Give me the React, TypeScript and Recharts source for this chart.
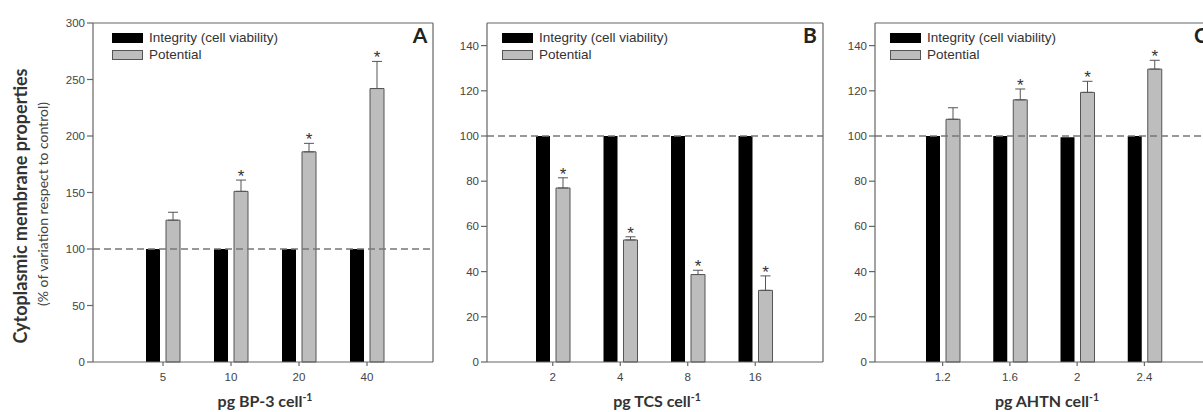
import React from 'react';
import { BarChart, Bar, XAxis, YAxis, ErrorBar, ReferenceLine, LabelList, Legend } from 'recharts';

const seriesNames = ['Integrity (cell viability)', 'Potential'];
const seriesFills = ['#000000', '#bdbdbd'];

// panel A: BP-3
const bp3Doses = ['5', '10', '20', '40'];
const bp3Integrity = [100, 100, 100, 100];
const bp3Potential = [125.5, 151, 186, 242];
const bp3Error = [7, 10, 7.5, 24];
const bp3Signif = [false, true, true, true];

// panel B: TCS
const tcsDoses = ['2', '4', '8', '16'];
const tcsIntegrity = [100, 100, 100, 100];
const tcsPotential = [77, 54, 38.7, 31.7];
const tcsError = [4.5, 1.4, 1.9, 6.4];
const tcsSignif = [true, true, true, true];

// panel C: AHTN
const ahtnDoses = ['1.2', '1.6', '2', '2.4'];
const ahtnIntegrity = [100, 100, 99.5, 100];
const ahtnPotential = [107.4, 116, 119.3, 129.6];
const ahtnError = [5.1, 4.8, 4.9, 3.9];
const ahtnSignif = [false, true, true, true];

const yTicksA = [0, 50, 100, 150, 200, 250, 300];
const yTicksBC = [0, 20, 40, 60, 80, 100, 120, 140];

const makeRows = (doses: string[], integ: number[], pot: number[], err: number[], sig: boolean[]) =>
  doses.map((d, i) => ({ dose: d, integrity: integ[i], potential: pot[i], err: [0, err[i]], e: err[i], sig: sig[i] }));

const rowsA = makeRows(bp3Doses, bp3Integrity, bp3Potential, bp3Error, bp3Signif);
const rowsB = makeRows(tcsDoses, tcsIntegrity, tcsPotential, tcsError, tcsSignif);
const rowsC = makeRows(ahtnDoses, ahtnIntegrity, ahtnPotential, ahtnError, ahtnSignif);

const tickFont = { fontSize: 11.5, fill: '#444', fontFamily: 'Liberation Sans, Arial, sans-serif' };
const axisColor = '#666';

const renderLegend = () => (
  <div style={{ fontFamily: 'Liberation Sans, Arial, sans-serif', fontSize: 13.5, color: '#333', lineHeight: '17px', textAlign: 'left' }}>
    {seriesNames.map((n, i) => (
      <div key={n} style={{ display: 'flex', alignItems: 'center', whiteSpace: 'nowrap' }}>
        <span
          style={{
            display: 'inline-block',
            width: 31,
            height: 10,
            background: seriesFills[i],
            border: i ? '1px solid #555' : 'none',
            boxSizing: 'border-box',
            marginRight: 6,
          }}
        />
        {n}
      </div>
    ))}
  </div>
);

type PanelProps = {
  rows: any[];
  left: number;
  width: number;
  yWidth: number;
  domain: number[];
  ticks: number[];
  pad: { left: number; right: number };
  legendLeft: number;
};

const Panel = ({ rows, left, width, yWidth, domain, ticks, pad, legendLeft }: PanelProps) => {
  const star = (props: any) => {
    const { x, y, width: w, height: h, value, index } = props;
    const row = rows[index];
    if (!row || !row.sig) return null;
    const top = Number(y) - (row.e * Number(h)) / Number(value);
    return (
      <text x={Number(x) + Number(w) / 2} y={top + 2} textAnchor="middle" fontSize={17} fill="#333" fontFamily="Liberation Sans, Arial, sans-serif">
        *
      </text>
    );
  };

  return (
    <div style={{ position: 'absolute', left, top: 0 }}>
      <BarChart width={width} height={412} data={rows} margin={{ top: 22, right: 6, bottom: 20, left: 0 }} barGap={6}>
        <XAxis dataKey="dose" padding={pad} height={30} tick={tickFont} tickSize={4} tickMargin={7} stroke={axisColor} strokeWidth={1.2} />
        {/* top and right axes only close the frame */}
        <XAxis xAxisId="top" dataKey="dose" orientation="top" height={1} padding={pad} tick={false} tickLine={false} stroke={axisColor} strokeWidth={1.2} />
        <YAxis domain={domain} ticks={ticks} width={yWidth} tick={tickFont} tickSize={6} tickMargin={2} stroke={axisColor} strokeWidth={1.2} />
        <YAxis
          yAxisId="right"
          dataKey="potential"
          orientation="right"
          domain={domain}
          allowDataOverflow
          width={1}
          tick={false}
          tickLine={false}
          stroke={axisColor}
          strokeWidth={1.2}
        />
        <Legend verticalAlign="middle" align="center" layout="horizontal" wrapperStyle={{ top: 29, left: legendLeft, width: 'auto' }} content={renderLegend} />
        <Bar dataKey="integrity" name={seriesNames[0]} fill={seriesFills[0]} barSize={14} isAnimationActive={false} />
        <Bar dataKey="potential" name={seriesNames[1]} fill={seriesFills[1]} stroke="#555" strokeWidth={1} barSize={14} isAnimationActive={false}>
          <ErrorBar dataKey="err" width={5} stroke="#555" strokeWidth={1} direction="y" />
          <LabelList dataKey="potential" content={star} />
        </Bar>
        <ReferenceLine y={100} stroke="#777" strokeWidth={1.5} strokeDasharray="7 4" />
      </BarChart>
    </div>
  );
};

const titleFont = 'Lato, "Open Sans", sans-serif';

const XTitle = ({ x, name }: { x: number; name: string }) => (
  <text x={x} y={407} textAnchor="middle" fontFamily={titleFont} fontWeight="bold" fontSize={16} fill="#333">
    {name}
    <tspan fontSize={10.5} dy={-6}>-1</tspan>
  </text>
);

const App = () => (
  <div style={{ position: 'absolute', left: 0, top: 0, width: 1203, height: 412, overflow: 'hidden', background: '#fff' }}>
    <Panel rows={rowsA} left={0} width={440} yWidth={93} domain={[0, 300]} ticks={yTicksA} pad={{ left: 36, right: 32 }} legendLeft={112} />
    <Panel rows={rowsB} left={440} width={390} yWidth={47} domain={[0, 150]} ticks={yTicksBC} pad={{ left: 32, right: 34 }} legendLeft={62} />
    <Panel rows={rowsC} left={830} width={389} yWidth={45} domain={[0, 150]} ticks={yTicksBC} pad={{ left: 34, right: 34 }} legendLeft={60} />
    <svg width={1203} height={412} style={{ position: 'absolute', left: 0, top: 0, pointerEvents: 'none' }}>
      <text transform="translate(27,206) rotate(-90)" textAnchor="middle" fontFamily={titleFont} fontWeight="bold" fontSize={18} fill="#333">
        Cytoplasmic membrane properties
      </text>
      <text transform="translate(48,204) rotate(-90)" textAnchor="middle" fontFamily={titleFont} fontSize={14} fill="#444">
        (% of variation respect to control)
      </text>
      <XTitle x={265} name="pg BP-3 cell" />
      <XTitle x={657} name="pg TCS cell" />
      <XTitle x={1047} name="pg AHTN cell" />
      <g fontFamily={titleFont} fontWeight="bold" fontSize={21} fill="#222" textAnchor="middle">
        <text x={420} y={43}>A</text>
        <text x={810} y={43}>B</text>
        <text x={1201} y={43}>C</text>
      </g>
    </svg>
  </div>
);

export default App;
